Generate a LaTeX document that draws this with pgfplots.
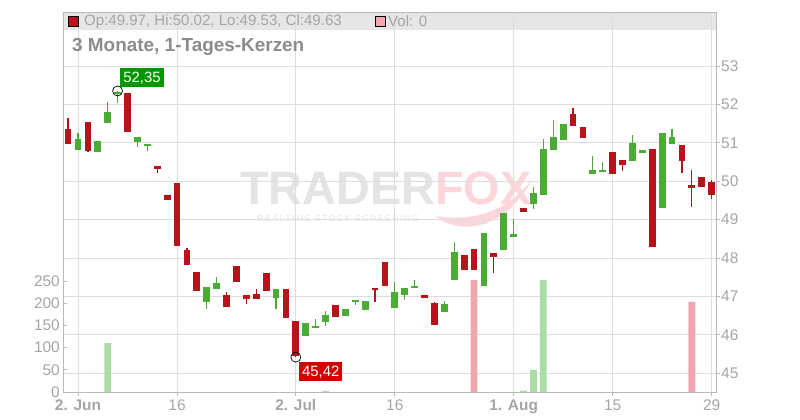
\documentclass[border=0pt]{standalone}
\usepackage{pgfplots}
\pgfplotsset{compat=1.18}
\usepackage{pgfplotstable}
\usepackage{fontspec}
\setmainfont{Liberation Sans}
\definecolor{cred}{RGB}{180,20,26}
\definecolor{cgreen}{RGB}{74,172,52}
\definecolor{vgreen}{RGB}{170,222,166}
\definecolor{vpink}{RGB}{240,166,174}
\definecolor{gridc}{RGB}{221,221,221}
\definecolor{axc}{RGB}{185,185,185}
\definecolor{txt}{RGB}{165,165,165}
\definecolor{ttl}{RGB}{140,140,140}
\definecolor{band}{RGB}{230,230,230}
\definecolor{wmgray}{RGB}{228,228,228}
\definecolor{wmpink}{RGB}{252,214,218}
\definecolor{lblgreen}{RGB}{0,150,0}
\definecolor{lblred}{RGB}{212,0,0}

% rising candles
\pgfplotstableread{
x o h l c
0 50.82 51.26 50.82 51.10
2 50.75 51.05 50.75 51.05
3 51.52 52.06 51.52 51.80
4 52.27 52.35 52.05 52.33
6 51.03 51.15 50.88 51.15
7 50.93 50.96 50.80 50.96
13 46.85 47.25 46.68 47.25
14 47.20 47.51 47.20 47.36
20 46.95 47.20 46.68 47.20
23 45.96 46.32 45.96 46.32
24 46.18 46.42 46.18 46.23
25 46.33 46.61 46.22 46.53
27 46.48 46.68 46.48 46.68
28 46.85 46.90 46.77 46.90
29 46.66 46.89 46.66 46.89
32 46.69 47.38 46.69 47.12
33 47.03 47.23 46.90 47.23
34 47.23 47.44 47.23 47.28
37 46.59 46.89 46.59 46.81
38 47.44 48.42 47.44 48.16
41 47.26 48.66 47.26 48.66
43 48.22 49.18 48.22 49.18
44 48.54 49.02 48.54 48.63
46 49.42 49.85 49.29 49.70
47 49.63 51.10 49.63 50.84
48 50.82 51.59 50.82 51.15
49 51.08 51.49 51.08 51.49
52 50.20 50.66 50.20 50.29
53 50.23 50.50 50.23 50.29
56 50.54 51.20 50.54 51.00
57 50.74 50.81 50.74 50.81
59 49.31 51.25 49.31 51.25
60 50.98 51.36 50.98 51.15
}\upTable

% falling candles
\pgfplotstableread{
x o h l c
-1 51.36 51.64 50.98 50.98
1 51.54 51.54 50.75 50.80
5 52.29 52.29 51.29 51.29
8 50.40 50.40 50.22 50.33
9 49.65 49.65 49.50 49.50
10 49.96 49.96 48.31 48.31
11 48.22 48.25 47.82 47.82
12 47.64 47.64 47.13 47.13
15 47.05 47.12 46.72 46.72
16 47.80 47.80 47.37 47.37
17 47.05 47.05 46.81 46.93
18 47.06 47.20 46.93 46.93
19 47.62 47.62 47.13 47.13
21 47.20 47.20 46.43 46.43
22 46.35 46.35 45.42 45.45
26 46.79 46.79 46.46 46.46
30 47.23 47.23 46.85 47.17
31 47.90 47.90 47.26 47.26
35 47.05 47.05 46.95 46.95
36 46.84 46.86 46.25 46.25
39 48.09 48.09 47.70 47.70
40 48.24 48.24 47.68 47.68
42 48.12 48.12 47.60 48.04
45 49.31 49.31 49.19 49.19
50 51.75 51.90 51.44 51.44
51 51.41 51.41 51.13 51.13
54 50.76 50.76 50.20 50.20
55 50.55 50.55 50.28 50.43
58 50.84 50.84 48.30 48.30
61 50.94 50.94 50.22 50.54
62 49.90 50.29 49.34 49.83
63 50.11 50.11 49.86 49.86
64 49.97 50.02 49.53 49.63
}\downTable

\pgfplotstableread{
x v
3 110
25 2
45 3
46 50
47 252
}\volUp

\pgfplotstableread{
x v
40 252
62 203
}\volDown

\pgfplotsset{
  base/.style={scale only axis, width=653bp, height=380bp,
    xmin=-1.515, xmax=64.44, at={(0,0)}, anchor=south west,
    /pgf/number format/assume math mode=true},
  wick/.style={only marks, mark=*, mark size=0pt, mark options={draw=none, fill=none}, forget plot,
    error bars/.cd, y dir=both, y explicit, error mark=none,
    error bar style={draw=#1, line width=1.2bp}},
  body/.style={only marks, mark=*, mark size=0pt, mark options={draw=none, fill=none}, forget plot,
    error bars/.cd, y dir=both, y explicit, error mark=none,
    error bar style={draw=#1, line width=6.8bp}},
}

\begin{document}
\begin{tikzpicture}
\fill[white] (-63bp,-28bp) rectangle (737bp,392bp);
\path[use as bounding box] (-63bp,-28bp) rectangle (737bp,392bp);

% watermark
\fill[wmpink] (372bp,176bp) .. controls (395bp,158bp) and (440bp,158bp) .. (470bp,214bp)
  .. controls (445bp,180bp) and (410bp,170bp) .. (372bp,176bp) -- cycle;
\node[anchor=base west, inner sep=0pt, font=\fontsize{47}{47}\selectfont\bfseries] at (177bp,187bp)
  {\textcolor{wmgray}{TRADER}\textcolor{wmpink}{FOX}};
\node[anchor=center, inner sep=0pt, text=wmgray, font=\fontsize{9}{9}\selectfont\addfontfeature{LetterSpace=15}] at (275bp,174bp)
  {REALTIME STOCK SCREENING};

% header band
\fill[band] (0bp,362bp) rectangle (653bp,380bp);

% price axis
\begin{axis}[base,
  ymin=44.513, ymax=54.406,
  axis line style={draw=axc},
  ytick={45,46,47,48,49,50,51,52,53},
  ytick pos=right, yticklabel pos=right,
  xtick={0,10,22,32,44,54,64},
  xticklabels={\textbf{2. Jun},16,\textbf{2. Jul},16,\textbf{1. Aug},15,29},
  xtick pos=bottom,
  tick align=outside,
  major tick length=3.5bp,
  tick style={draw=axc, line width=0.8bp},
  grid=major,
  grid style={draw=gridc, line width=0.8bp},
  ticklabel style={font=\fontsize{15.5}{16}\selectfont, text=txt},
  yticklabel style={inner xsep=1.5bp},
  xticklabel style={inner ysep=2bp, yshift=-2bp},
  clip=false,
]
\addplot[wick=cgreen] table[x=x, y expr=(\thisrow{h}+\thisrow{l})/2, y error expr=(\thisrow{h}-\thisrow{l})/2] {\upTable};
\addplot[wick=cred] table[x=x, y expr=(\thisrow{h}+\thisrow{l})/2, y error expr=(\thisrow{h}-\thisrow{l})/2] {\downTable};
\addplot[body=cgreen] table[x=x, y expr=(\thisrow{o}+\thisrow{c})/2, y error expr=abs(\thisrow{c}-\thisrow{o})/2] {\upTable};
\addplot[body=cred] table[x=x, y expr=(\thisrow{o}+\thisrow{c})/2, y error expr=abs(\thisrow{c}-\thisrow{o})/2] {\downTable};
% extreme markers
\addplot[only marks, mark=o, mark size=5bp, mark options={draw=black, line width=0.7bp}, forget plot] coordinates {(4,52.35) (22,45.42)};
\node[anchor=south west, fill=lblgreen, text=white, inner xsep=3bp, inner ysep=0pt, minimum height=19bp,
  font=\fontsize{15}{15}\selectfont] at ([shift={(2.5bp,3.5bp)}]axis cs:4,52.35) {52,35};
\node[anchor=north west, fill=lblred, text=white, inner xsep=3bp, inner ysep=0pt, minimum height=19bp,
  font=\fontsize{15}{15}\selectfont] at ([shift={(3bp,-5bp)}]axis cs:22,45.42) {45,42};
\end{axis}

% volume axis
\begin{axis}[base,
  ymin=0, ymax=855.8,
  axis x line=none,
  axis y line*=left,
  y axis line style={draw=none},
  ytick={0,50,100,150,200,250},
  ytick pos=left,
  tick align=inside,
  major tick length=4bp,
  tick style={draw=axc, line width=0.8bp},
  yticklabel style={font=\fontsize{15.5}{16}\selectfont, text=txt, inner xsep=3bp},
]
\addplot[ybar, bar width=6.8bp, fill=vgreen, draw=none, forget plot] table[x=x, y=v] {\volUp};
\addplot[ybar, bar width=6.8bp, fill=vpink, draw=none, forget plot] table[x=x, y=v] {\volDown};
\end{axis}

% header legend and title
\draw[black, line width=0.7bp, fill=cred] (5bp,365.5bp) rectangle (15.5bp,376bp);
\node[anchor=west, inner sep=0pt, text=txt, font=\fontsize{15.1}{16}\selectfont] at (21bp,370.5bp)
  {Op:49.97, Hi:50.02, Lo:49.53, Cl:49.63};
\draw[black, line width=0.7bp, fill=vpink] (312bp,365.5bp) rectangle (322.5bp,376bp);
\node[anchor=west, inner sep=0pt, text=txt, font=\fontsize{15.1}{16}\selectfont] at (325bp,370.5bp)
  {Vol: 0};
\node[anchor=west, inner sep=0pt, text=ttl, font=\fontsize{19}{19}\selectfont\bfseries] at (9bp,345bp)
  {3 Monate, 1-Tages-Kerzen};
\end{tikzpicture}
\end{document}
